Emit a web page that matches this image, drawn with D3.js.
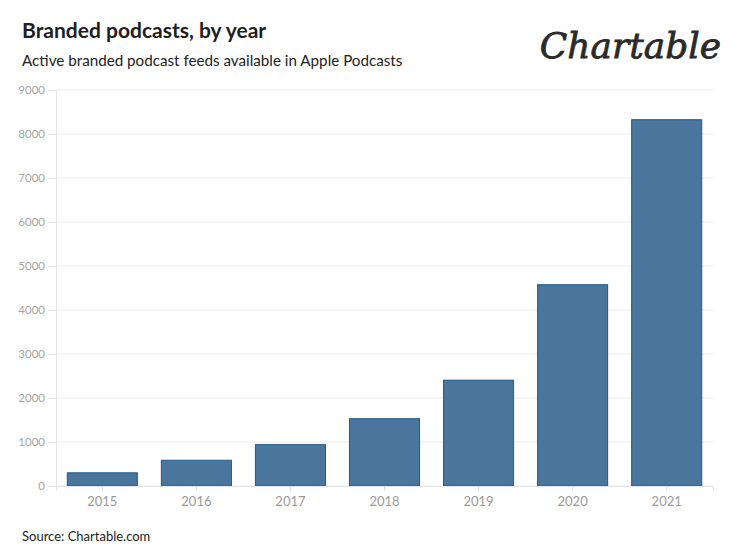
<!DOCTYPE html>
<html>
<head>
<meta charset="utf-8">
<script src="https://cdn.jsdelivr.net/npm/d3@7"></script>
<style>
  body { margin: 0; background: #fff; }
  svg { display: block; font-family: Lato, "Noto Sans", sans-serif; }
</style>
</head>
<body>
<div id="chart"></div>
<script>
const years = ["2015", "2016", "2017", "2018", "2019", "2020", "2021"];
const feeds = [300, 585, 940, 1530, 2405, 4575, 8325];
const yTicks = [0, 1000, 2000, 3000, 4000, 5000, 6000, 7000, 8000, 9000];

const W = 735, H = 550;
const margin = { top: 90, right: 22, bottom: 64, left: 56 };
const width = W - margin.left - margin.right;
const height = H - margin.top - margin.bottom;

const svg = d3.select("#chart").append("svg")
    .attr("width", W)
    .attr("height", H);

// header
svg.append("text")
    .attr("x", 22).attr("y", 38)
    .attr("font-size", 21).attr("font-weight", 700)
    .attr("fill", "#1e1e1e")
    .text("Branded podcasts, by year");

svg.append("text")
    .attr("x", 22).attr("y", 66)
    .attr("font-size", 15.2)
    .attr("fill", "#222")
    .text("Active branded podcast feeds available in Apple Podcasts");

// logo
svg.append("text")
    .attr("x", 721).attr("y", 58)
    .attr("text-anchor", "end")
    .attr("font-family", "'DejaVu Serif', serif")
    .attr("font-style", "italic")
    .attr("font-size", 36)
    .attr("fill", "#2a2a2a")
    .attr("stroke", "#2a2a2a")
    .attr("stroke-width", 0.8)
    .text("Chartable");

svg.append("text")
    .attr("x", 22).attr("y", 541)
    .attr("font-size", 13)
    .attr("fill", "#222")
    .text("Source: Chartable.com");

const g = svg.append("g")
    .attr("transform", `translate(${margin.left},${margin.top})`);

const x = d3.scaleBand()
    .domain(years)
    .range([0, width])
    .paddingInner(0.255)
    .paddingOuter(0.12);

const y = d3.scaleLinear()
    .domain([0, 9000])
    .range([height, 0]);

// gridlines
g.append("g")
    .selectAll("line")
    .data(yTicks)
    .join("line")
    .attr("x1", 0).attr("x2", width)
    .attr("y1", d => y(d)).attr("y2", d => y(d))
    .attr("stroke", "#ebebeb");

// y axis
const yAxis = g.append("g")
    .call(d3.axisLeft(y).tickValues(yTicks).tickSize(8).tickPadding(3).tickFormat(d3.format("d")));
yAxis.select(".domain").attr("stroke", "#e6e6e6");
yAxis.selectAll(".tick line").attr("stroke", "#e6e6e6");
yAxis.selectAll(".tick text")
    .attr("fill", "#a5a5a5")
    .attr("font-size", 11.5)
    .attr("font-family", "Lato, sans-serif");

// bars
g.append("g")
    .selectAll("rect")
    .data(years.map((yr, i) => ({ year: yr, value: feeds[i] })))
    .join("rect")
    .attr("x", d => x(d.year))
    .attr("y", d => y(d.value))
    .attr("width", x.bandwidth())
    .attr("height", d => height - y(d.value))
    .attr("fill", "#4a769d")
    .attr("stroke", "#1a5c93")
    .attr("stroke-width", 1);

// x axis
const xAxis = g.append("g")
    .attr("transform", `translate(0,${height})`)
    .call(d3.axisBottom(x).tickSize(5).tickPadding(6));
xAxis.select(".domain").attr("stroke", "#e6e6e6");
xAxis.selectAll(".tick line").attr("stroke", "#e0e0e0");
xAxis.selectAll(".tick text")
    .attr("fill", "#9a9a9a")
    .attr("font-size", 13)
    .attr("font-family", "Lato, sans-serif");
</script>
</body>
</html>
